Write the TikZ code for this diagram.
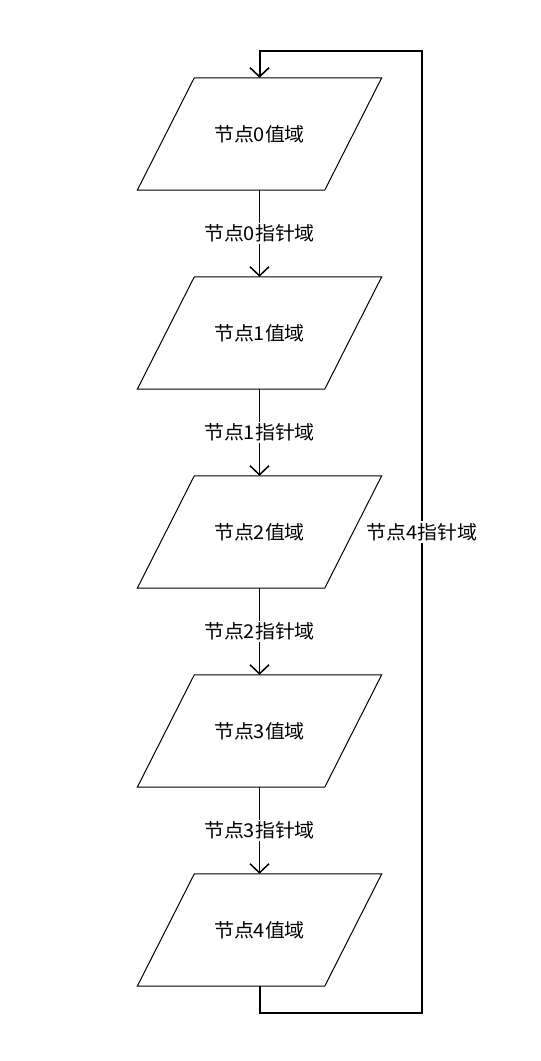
\documentclass[tikz,border=0pt]{standalone}
\usepackage{fontspec}
\newfontfamily\cjk{Noto Sans CJK SC}[FakeStretch=1.05]
\usetikzlibrary{arrows.meta}
\begin{document}
\begin{tikzpicture}[x=1pt,y=-1pt,
  databox/.style={minimum width=244pt,minimum height=112pt,inner sep=0pt,font=\cjk\fontsize{19}{22}\selectfont},
  conn/.style={line width=1.5pt,-{Straight Barb[length=9pt,width=19pt,line width=1.5pt]}},
  loopline/.style={line width=2pt,-{Straight Barb[length=9pt,width=19pt,line width=1.6pt]}},
  lbl/.style={fill=white,inner sep=2pt,font=\cjk\fontsize{19}{22}\selectfont}]
\useasboundingbox (0,0) rectangle (541,1061);
\foreach \i in {0,...,4}{
  \node[databox] (n\i) at (259.5,{134+199*\i}) {节点\i 值域};
  \draw[line width=1pt] ([xshift=57pt]n\i.north west) -- (n\i.north east) -- ([xshift=-57pt]n\i.south east) -- (n\i.south west) -- cycle;
}
\foreach \i/\j in {0/1,1/2,2/3,3/4}{
  \draw[conn] (n\i.south) -- node[lbl]{节点\i 指针域} (n\j.north);
}
\coordinate (lb) at (422,1013);
\coordinate (lt) at (422,51);
\draw[loopline] (n4.south) |- (lb) -- node[lbl]{节点4指针域} (lt) -| (n0.north);
\end{tikzpicture}
\end{document}
